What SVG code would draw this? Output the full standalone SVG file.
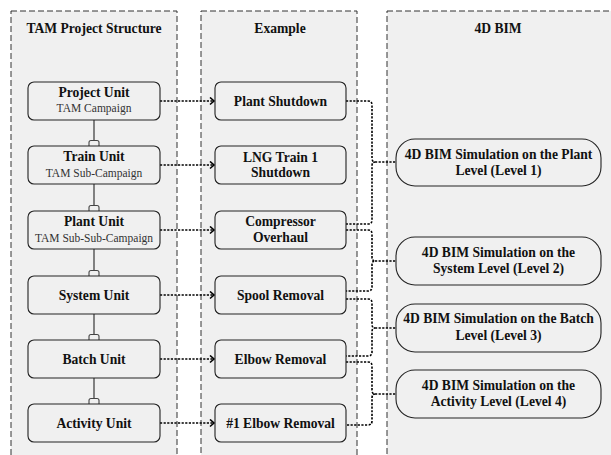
<svg xmlns="http://www.w3.org/2000/svg" width="611" height="455" viewBox="0 0 611 455">
<style>
.lane{fill:#f0f0f0;stroke:#333;stroke-width:1;stroke-dasharray:6 3}
.box{fill:#f0f0f0;stroke:#222;stroke-width:1.1}
.t{font-family:"Liberation Serif","Times New Roman",serif;font-weight:bold;font-size:13.6px;fill:#111;text-anchor:middle}
.s{font-family:"Liberation Serif","Times New Roman",serif;font-size:11.5px;fill:#333;text-anchor:middle}
.dot{fill:none;stroke:#000;stroke-width:1.6;stroke-dasharray:2.2 1.4}
.link{stroke:#444;stroke-width:1.3;fill:none}
.cap{fill:#f0f0f0;stroke:#444;stroke-width:1.1}
</style>
<defs>
<marker id="chev" markerUnits="userSpaceOnUse" markerWidth="8" markerHeight="10" refX="5" refY="4" orient="auto">
<path d="M1,0.5 L5,4 L1,7.5" fill="none" stroke="#000" stroke-width="1.6"/>
</marker>
</defs>
<rect width="611" height="455" fill="#ffffff"/>
<g id="lanes">
<rect class="lane" x="11" y="11" width="166" height="470"/>
<rect class="lane" x="201" y="11" width="156" height="470"/>
<rect class="lane" x="387" y="11" width="260" height="470"/>
<text class="t" x="94" y="33">TAM Project Structure</text>
<text class="t" x="280" y="33">Example</text>
<text class="t" x="498" y="33">4D BIM</text>
</g>
<g id="connectors">
<line class="link" x1="94" y1="120" x2="94" y2="141"/>
<line class="link" x1="94" y1="184" x2="94" y2="206"/>
<line class="link" x1="94" y1="249" x2="94" y2="271"/>
<line class="link" x1="94" y1="314" x2="94" y2="335"/>
<line class="link" x1="94" y1="378" x2="94" y2="399"/>
<path class="cap" d="M89,146 V142.5 Q89,140.5 91,140.5 H97 Q99,140.5 99,142.5 V146"/>
<path class="cap" d="M89,211 V207.5 Q89,205.5 91,205.5 H97 Q99,205.5 99,207.5 V211"/>
<path class="cap" d="M89,276 V272.5 Q89,270.5 91,270.5 H97 Q99,270.5 99,272.5 V276"/>
<path class="cap" d="M89,340 V336.5 Q89,334.5 91,334.5 H97 Q99,334.5 99,336.5 V340"/>
<path class="cap" d="M89,404 V400.5 Q89,398.5 91,398.5 H97 Q99,398.5 99,400.5 V404"/>
<path class="dot" d="M160,101 H214" marker-end="url(#chev)"/>
<path class="dot" d="M160,165 H214" marker-end="url(#chev)"/>
<path class="dot" d="M160,230 H214" marker-end="url(#chev)"/>
<path class="dot" d="M160,295 H214" marker-end="url(#chev)"/>
<path class="dot" d="M160,359 H214" marker-end="url(#chev)"/>
<path class="dot" d="M160,423 H214" marker-end="url(#chev)"/>
<path class="dot" d="M346,101 H368 Q372,101 372,105 V158 Q372,162 375,162 Q372,162 372,166 V220 Q372,224 368,224 H346"/>
<path class="dot" d="M375,162 H396"/>
<path class="dot" d="M346,230 H368 Q372,230 372,234 V257 Q372,261 375,261 Q372,261 372,265 V287 Q372,291 368,291 H346"/>
<path class="dot" d="M375,261 H396"/>
<path class="dot" d="M346,299 H368 Q372,299 372,303 V324 Q372,328 375,328 Q372,328 372,332 V352 Q372,356 368,356 H346"/>
<path class="dot" d="M375,328 H396"/>
<path class="dot" d="M346,362 H368 Q372,362 372,366 V390 Q372,394 375,394 Q372,394 372,398 V421 Q372,425 368,425 H346"/>
<path class="dot" d="M375,394 H396"/>
</g>
<g id="project-unit"><rect class="box" x="28" y="82" width="132" height="38" rx="6"/><text class="t" x="94" y="97">Project Unit</text><text class="s" x="94" y="112">TAM Campaign</text></g>
<g id="train-unit"><rect class="box" x="28" y="146" width="132" height="38" rx="6"/><text class="t" x="94" y="161">Train Unit</text><text class="s" x="94" y="176.5">TAM Sub-Campaign</text></g>
<g id="plant-unit"><rect class="box" x="28" y="211" width="132" height="38" rx="6"/><text class="t" x="94" y="226">Plant Unit</text><text class="s" x="94" y="241.5">TAM Sub-Sub-Campaign</text></g>
<g id="system-unit"><rect class="box" x="28" y="276" width="132" height="38" rx="6"/><text class="t" x="94" y="299.5">System Unit</text></g>
<g id="batch-unit"><rect class="box" x="28" y="340" width="132" height="38" rx="6"/><text class="t" x="94" y="363.5">Batch Unit</text></g>
<g id="activity-unit"><rect class="box" x="28" y="404" width="132" height="38" rx="6"/><text class="t" x="94" y="427.5">Activity Unit</text></g>
<g id="plant-shutdown"><rect class="box" x="215" y="82" width="131" height="38" rx="6"/><text class="t" x="280.5" y="105.5">Plant Shutdown</text></g>
<g id="lng-train"><rect class="box" x="215" y="146" width="131" height="38" rx="6"/><text class="t" x="280.5" y="161.5">LNG Train 1</text><text class="t" x="280.5" y="177">Shutdown</text></g>
<g id="compressor"><rect class="box" x="215" y="211" width="131" height="38" rx="6"/><text class="t" x="280.5" y="226">Compressor</text><text class="t" x="280.5" y="242">Overhaul</text></g>
<g id="spool"><rect class="box" x="215" y="276" width="131" height="38" rx="6"/><text class="t" x="280.5" y="299.5">Spool Removal</text></g>
<g id="elbow"><rect class="box" x="215" y="340" width="131" height="38" rx="6"/><text class="t" x="280.5" y="363.5">Elbow Removal</text></g>
<g id="elbow1"><rect class="box" x="215" y="404" width="131" height="38" rx="6"/><text class="t" x="280.5" y="427.5">#1 Elbow Removal</text></g>
<g id="level1"><rect class="box" x="396" y="139" width="205" height="47" rx="19"/><text class="t" x="498.5" y="158.5">4D BIM Simulation on the Plant</text><text class="t" x="498.5" y="175">Level (Level 1)</text></g>
<g id="level2"><rect class="box" x="396" y="237" width="205" height="48" rx="19"/><text class="t" x="498.5" y="256.5">4D BIM Simulation on the</text><text class="t" x="498.5" y="273">System Level (Level 2)</text></g>
<g id="level3"><rect class="box" x="396" y="304" width="205" height="48" rx="19"/><text class="t" x="498.5" y="323">4D BIM Simulation on the Batch</text><text class="t" x="498.5" y="339.5">Level (Level 3)</text></g>
<g id="level4"><rect class="box" x="396" y="370" width="205" height="48" rx="19"/><text class="t" x="498.5" y="389.5">4D BIM Simulation on the</text><text class="t" x="498.5" y="406">Activity Level (Level 4)</text></g>
</svg>
